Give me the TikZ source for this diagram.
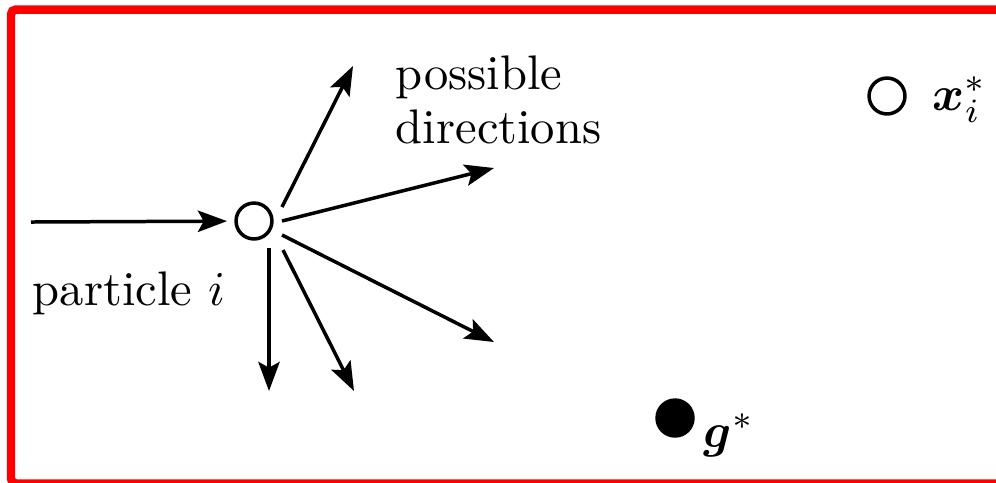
\documentclass[tikz,border=0pt]{standalone}
\usepackage{amsmath, amssymb}
\usepackage{xcolor}
\usetikzlibrary{arrows.meta}

\begin{document}
\begin{tikzpicture}[x=0.206pt, y=-0.206pt,
    ray/.style={line width=0.72pt, -{Stealth[length=6pt, width=4.4pt, inset=1.2pt]}},
    dot/.style={circle, draw, line width=0.72pt, inner sep=0pt, minimum size=7.4pt},
    lbl/.style={inner sep=0pt, anchor=base west}]
    % Frame (open at the right)
    \useasboundingbox (0,0) rectangle (996,482);
    \draw[red, line width=1.75pt, rounded corners=1pt]
        (996,9.5) -- (11,9.5) -- (11,483.5) -- (996,483.5);

    % Particle i and its incoming direction
    \node[dot] (p) at (254,221) {};
    \coordinate (in) at (31,222);
    \draw[ray, shorten >=1.5pt] (in) -- (p);
    \node[lbl] (plabel) at (32,305) {particle $i$};

    % Possible directions
    \coordinate (s1) at (282,207); \coordinate (e1) at (353,66);
    \coordinate (s2) at (282,221); \coordinate (e2) at (494,168);
    \coordinate (s3) at (282,235); \coordinate (e3) at (494,342);
    \coordinate (s4) at (283,250); \coordinate (e4) at (354,391);
    \coordinate (s5) at (269,248); \coordinate (e5) at (269,391);
    \foreach \k in {1,...,5}
        \draw[ray] (s\k) -- (e\k);
    \node[lbl, align=left, font=\fontsize{10}{11}\selectfont] (dlabel) at (395,143) {possible\\directions};

    % Personal best x_i^*
    \node[dot] (xbest) at (887,96) {};
    \node[lbl] (xlabel) at (932,110) {$\boldsymbol{x}_i^*$};

    % Global best g^*
    \node[dot, fill=black] (gbest) at (675,418) {};
    \node[lbl] (glabel) at (703,447) {$\boldsymbol{g}^*$};
\end{tikzpicture}
\end{document}
